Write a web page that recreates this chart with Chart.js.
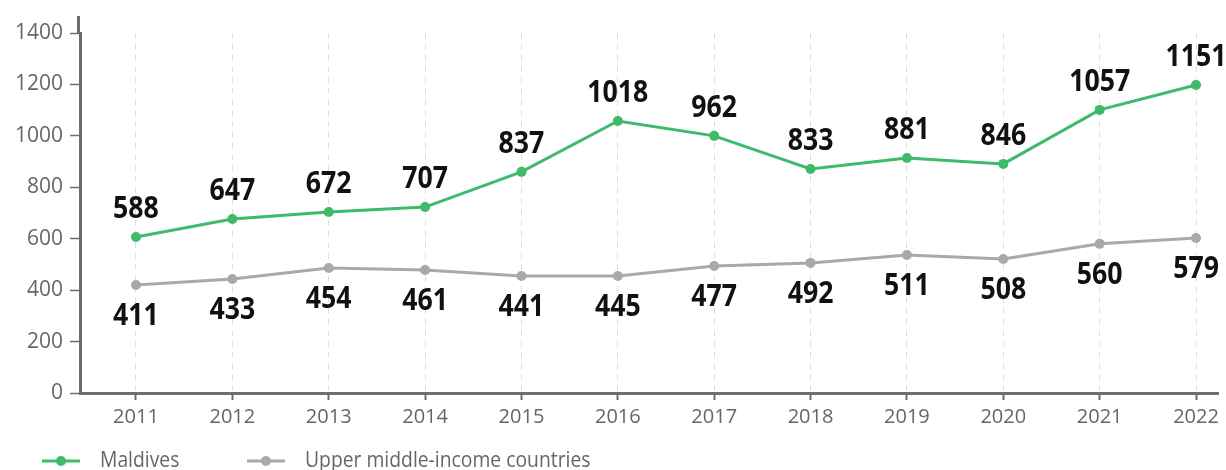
<!DOCTYPE html>
<html>
<head>
<meta charset="utf-8">
<script src="https://cdn.jsdelivr.net/npm/chart.js@4"></script>
<style>
  html, body { margin: 0; padding: 0; background: #fff; }
  #wrap { width: 1226px; height: 470px; }
</style>
</head>
<body>
<div id="wrap"><canvas id="chart"></canvas></div>
<script>
const years = [2011, 2012, 2013, 2014, 2015, 2016, 2017, 2018, 2019, 2020, 2021, 2022];

// plotted positions (as drawn in the picture)
const maldivesPoints = [607, 677, 704, 723, 860, 1058, 1000, 871, 914, 891, 1101, 1198];
const umicPoints = [420, 443, 486, 478, 455, 455, 494, 506, 537, 521, 580, 603];

// printed labels
const maldivesLabels = [588, 647, 672, 707, 837, 1018, 962, 833, 881, 846, 1057, 1151];
const umicLabels = [411, 433, 454, 461, 441, 445, 477, 492, 511, 508, 560, 579];

const yTicks = [0, 200, 400, 600, 800, 1000, 1200, 1400];

const green = '#3dbb6b';
const grey = '#a8a8ad';
const axisGrey = '#6e6e6e';
const textGrey = '#666666';

// draw text squeezed horizontally
function squeezedText(ctx, text, x, y, sx) {
  ctx.save();
  ctx.translate(x, y);
  ctx.scale(sx, 1);
  ctx.fillText(text, 0, 0);
  ctx.restore();
}

// Value labels above / below points
const valueLabels = {
  id: 'valueLabels',
  afterDatasetsDraw(chart) {
    const ctx = chart.ctx;
    ctx.save();
    ctx.font = 'bold 31px "Open Sans"';
    ctx.fillStyle = '#111';
    ctx.textAlign = 'center';
    ctx.textBaseline = 'middle';
    const sets = [[0, maldivesLabels, -28], [1, umicLabels, 31]];
    sets.forEach(([i, labels, dy]) => {
      chart.getDatasetMeta(i).data.forEach((pt, j) => {
        squeezedText(ctx, String(labels[j]), pt.x, pt.y + dy, 0.86);
      });
    });
    ctx.restore();
  }
};

// Axis extension above the top tick + custom legend
const extras = {
  id: 'extras',
  afterDraw(chart) {
    const ctx = chart.ctx;
    const a = chart.chartArea;
    ctx.save();
    ctx.strokeStyle = axisGrey;
    ctx.lineWidth = 3;
    ctx.beginPath();
    ctx.moveTo(a.left - 1.5, a.top);
    ctx.lineTo(a.left - 1.5, 16);
    ctx.stroke();

    const items = [
      { x: 42, text: 'Maldives', color: green },
      { x: 247, text: 'Upper middle-income countries', color: grey },
    ];
    const y = 461;
    ctx.font = '21px "Open Sans"';
    ctx.textBaseline = 'middle';
    ctx.textAlign = 'left';
    items.forEach(it => {
      ctx.strokeStyle = it.color;
      ctx.lineWidth = 3;
      ctx.beginPath();
      ctx.moveTo(it.x, y);
      ctx.lineTo(it.x + 38, y);
      ctx.stroke();
      ctx.fillStyle = it.color;
      ctx.beginPath();
      ctx.arc(it.x + 19, y, 5, 0, Math.PI * 2);
      ctx.fill();
      ctx.fillStyle = textGrey;
      squeezedText(ctx, it.text, it.x + 58, y, 0.92);
    });
    ctx.restore();
  }
};

const ctx = document.getElementById('chart').getContext('2d');
new Chart(ctx, {
  type: 'line',
  data: {
    datasets: [
      {
        label: 'Maldives',
        data: years.map((yr, i) => ({ x: yr, y: maldivesPoints[i] })),
        borderColor: green,
        backgroundColor: green,
        borderWidth: 3,
        pointRadius: 5,
        pointBorderWidth: 0,
        tension: 0,
      },
      {
        label: 'Upper middle-income countries',
        data: years.map((yr, i) => ({ x: yr, y: umicPoints[i] })),
        borderColor: grey,
        backgroundColor: grey,
        borderWidth: 3,
        pointRadius: 5,
        pointBorderWidth: 0,
        tension: 0,
      }
    ]
  },
  options: {
    responsive: true,
    maintainAspectRatio: false,
    animation: false,
    layout: { padding: { top: 33, right: 8, bottom: 0, left: 0 } },
    plugins: {
      legend: { display: false },
      tooltip: { enabled: false },
    },
    scales: {
      x: {
        type: 'linear',
        min: 2010.419,
        max: 2022.228,
        afterFit: s => { s.height = 77; },
        afterBuildTicks: s => { s.ticks = years.map(v => ({ value: v })); },
        ticks: {
          color: textGrey,
          font: { family: '"Open Sans"', size: 20 },
          padding: 5,
          maxRotation: 0,
          callback: v => String(v),
        },
        grid: {
          color: '#dedede',
          lineWidth: 1,
          tickColor: axisGrey,
          tickWidth: 2,
          tickLength: 7,
          tickBorderDash: [],
        },
        border: { color: axisGrey, width: 3, dash: [6, 5] },
      },
      y: {
        min: 0,
        max: 1400,
        afterFit: s => { s.width = 80; },
        afterBuildTicks: s => { s.ticks = yTicks.map(v => ({ value: v })); },
        ticks: {
          color: textGrey,
          font: { family: '"Open Sans"', size: 21 },
          padding: 7,
          callback: v => String(v),
        },
        grid: {
          drawOnChartArea: false,
          tickColor: axisGrey,
          tickWidth: 1.5,
          tickLength: 10,
        },
        border: { color: axisGrey, width: 3 },
      }
    }
  },
  plugins: [valueLabels, extras]
});
</script>
</body>
</html>
